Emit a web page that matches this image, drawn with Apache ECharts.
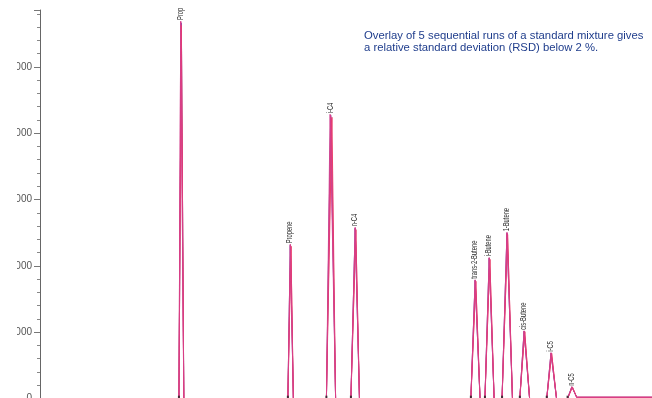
<!DOCTYPE html>
<html>
<head>
<meta charset="utf-8">
<script src="https://cdn.jsdelivr.net/npm/echarts@6/dist/echarts.min.js"></script>
<style>
html,body{margin:0;padding:0;background:#fff;}
#chart{width:652px;height:398px;}
</style>
</head>
<body>
<div id="chart"></div>
<script>
// Peak names (compounds)
const peakNames = ['Prop', 'Propene', 'i-C4', 'n-C4', 'trans-2-Butene', 'i-Butene', '1-Butene', 'cis-Butene', 'i-C5', 'n-C5'];
// Retention window per peak (min)
const peakStart = [2.27, 4.05, 4.68, 5.08, 7.04, 7.27, 7.55, 7.84, 8.28, 8.62];
const peakEnd   = [2.35, 4.14, 4.83, 5.22, 7.19, 7.42, 7.72, 8.00, 8.44, 8.77];
// Apex retention time of each run (min)
const run1Apex = [2.31, 4.09, 4.75, 5.15, 7.11, 7.34, 7.63, 7.91, 8.35, 8.69];
const run2Apex = [2.31, 4.10, 4.77, 5.16, 7.12, 7.35, 7.64, 7.92, 8.36, 8.70];
const run3Apex = [2.30, 4.09, 4.74, 5.15, 7.11, 7.34, 7.63, 7.91, 8.35, 8.69];
const run4Apex = [2.31, 4.10, 4.76, 5.16, 7.12, 7.35, 7.64, 7.92, 8.36, 8.70];
const run5Apex = [2.30, 4.09, 4.75, 5.15, 7.11, 7.34, 7.63, 7.91, 8.35, 8.69];
// Apex heights of each run
const run1Height = [5660, 2310, 4265, 2565, 1780, 2115, 2490, 1015, 685, 175];
const run2Height = [5630, 2290, 4240, 2550, 1770, 2100, 2475, 1005, 680, 172];
const run3Height = [5690, 2325, 4285, 2580, 1790, 2125, 2505, 1020, 690, 177];
const run4Height = [5610, 2300, 4220, 2540, 1765, 2095, 2470, 1010, 678, 171];
const run5Height = [5675, 2318, 4275, 2572, 1785, 2120, 2498, 1018, 688, 176];
// Baseline levels: before the last peak and after it
const baselineMain = 0;
const baselineTail = 18;
// Y tick values
const yTicks = [0, 1000, 2000, 3000, 4000, 5000];
const titleText = 'Overlay of 5 sequential runs of a standard mixture gives\na relative standard deviation (RSD) below 2 %.';

const runs = [
  {apex: run1Apex, h: run1Height, color: '#4a58c8'},
  {apex: run2Apex, h: run2Height, color: '#e6305e'},
  {apex: run3Apex, h: run3Height, color: '#cf3f8e'},
  {apex: run4Apex, h: run4Height, color: '#ea3a6a'},
  {apex: run5Apex, h: run5Height, color: '#d6408a'}
];

function buildRun(run) {
  const pts = [[0, baselineMain]];
  for (let i = 0; i < peakNames.length; i++) {
    pts.push([peakStart[i], baselineMain]);
    pts.push([run.apex[i], run.h[i]]);
    const b = (i === peakNames.length - 1) ? baselineTail : baselineMain;
    pts.push([peakEnd[i], b]);
  }
  pts.push([10, baselineTail]);
  return pts;
}

const series = runs.map((r, k) => ({
  type: 'line',
  name: 'Run ' + (k + 1),
  data: buildRun(r),
  symbol: 'none',
  lineStyle: {width: 0.9, color: r.color},
  itemStyle: {color: r.color},
  z: 2 + k,
  animation: false
}));

// Peak labels (condensed, vertical, above each apex)
const labelData = peakNames.map((n, i) => [run1Apex[i], Math.max(run1Height[i], run2Height[i], run3Height[i], run4Height[i], run5Height[i]), i]);
series.push({
  type: 'custom',
  data: labelData,
  z: 10,
  animation: false,
  silent: true,
  renderItem: function (params, api) {
    const c = api.coord([api.value(0), api.value(1)]);
    const idx = api.value(2);
    return {
      type: 'text',
      x: c[0] - 0.5,
      y: c[1] - 1,
      rotation: Math.PI / 2,
      scaleX: 0.64,
      style: {
        text: peakNames[idx],
        font: '9px "Liberation Sans", Arial, sans-serif',
        fill: '#2a2a2a',
        align: 'left',
        verticalAlign: 'middle'
      }
    };
  }
});
// Integration markers at peak starts
series.push({
  type: 'scatter',
  data: peakStart.map(t => [t, 20]),
  symbol: 'rect',
  symbolSize: [2, 3],
  itemStyle: {color: '#222'},
  z: 11,
  animation: false,
  silent: true
});

const chart = echarts.init(document.getElementById('chart'), null, {renderer: 'canvas'});
chart.setOption({
  animation: false,
  backgroundColor: '#fff',
  title: {
    text: titleText,
    left: 359,
    top: 25,
    textStyle: {
      fontFamily: '"Liberation Sans", Arial, sans-serif',
      fontSize: 11.3,
      lineHeight: 12,
      fontWeight: 'normal',
      color: '#1f3d8c'
    }
  },
  grid: {left: 40, top: 10, width: 612, height: 388.5, containLabel: false, outerBoundsMode: 'none'},
  xAxis: {
    type: 'value', min: 0, max: 10,
    show: false
  },
  yAxis: {
    type: 'value', min: 0, max: 5857, interval: 1000,
    axisLine: {show: true, lineStyle: {color: '#666', width: 1}},
    axisTick: {show: true, length: 6, lineStyle: {color: '#777'}},
    minorTick: {show: true, splitNumber: 5, length: 3, lineStyle: {color: '#888'}},
    splitLine: {show: false},
    axisLabel: {
      margin: 8,
      fontSize: 10,
      color: '#555',
      showMaxLabel: false,
      formatter: v => (yTicks.indexOf(v) >= 0 ? String(v) : '')
    }
  },
  graphic: [{
    type: 'rect',
    shape: {x: 0, y: 0, width: 17, height: 392},
    style: {fill: '#fff'},
    z: 100
  }],
  series: series
});
</script>
</body>
</html>
